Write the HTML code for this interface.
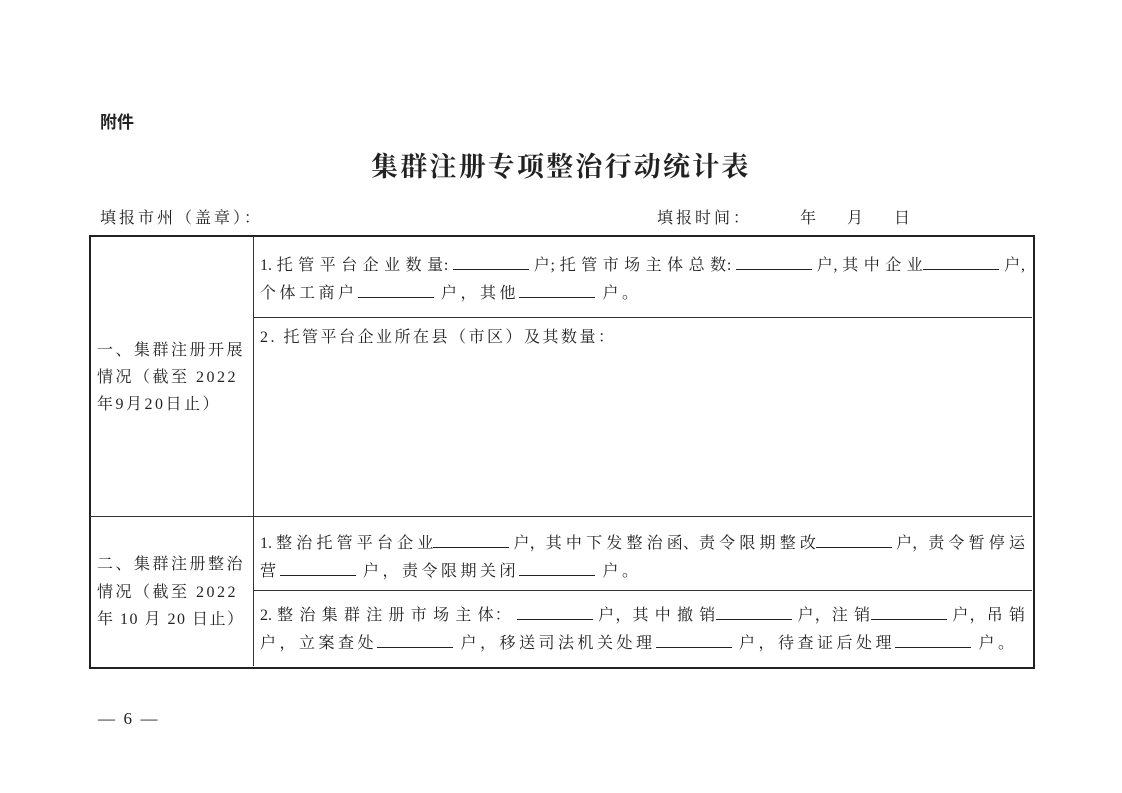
<!DOCTYPE html>
<html><head><meta charset="utf-8"><style>
body{margin:0;background:#fff;}
#p{position:relative;width:1122px;height:793px;overflow:hidden;font-family:"Liberation Serif","Noto Serif CJK SC",serif;color:#222;font-size:16px;}
.a{position:absolute;white-space:nowrap;line-height:20px;}
.j{position:absolute;left:260px;width:765px;line-height:20px;white-space:nowrap;text-align:justify;text-align-last:justify;}
.u{display:inline-block;width:76px;border-bottom:1px solid #222;height:14px;}
.ln{position:absolute;background:#333;}
</style></head><body><div id="p">
<div class="a" style="left:100px;top:113px;font-family:'Liberation Sans','Noto Sans CJK SC',sans-serif;font-weight:bold;font-size:17px;">附件</div>
<div class="a" style="left:371px;top:150px;font-weight:bold;font-size:27px;line-height:34px;letter-spacing:2.2px;">集群注册专项整治行动统计表</div>
<div class="a" style="left:100px;top:209px;letter-spacing:3px;">填报市州（盖章）：</div>
<div class="a" style="left:657px;top:209px;letter-spacing:3px;">填报时间：</div>
<div class="a" style="left:800px;top:209px;">年</div>
<div class="a" style="left:847px;top:209px;">月</div>
<div class="a" style="left:894px;top:209px;">日</div>

<div style="position:absolute;left:89px;top:235px;width:942px;height:430px;border:2px solid #222;"></div>
<div class="ln" style="left:253px;top:236px;width:1px;height:430px;"></div>
<div class="ln" style="left:253px;top:317px;width:779px;height:1px;"></div>
<div class="ln" style="left:90px;top:516px;width:942px;height:1px;"></div>
<div class="ln" style="left:253px;top:590px;width:779px;height:1px;"></div>

<div class="j" style="top:255px;">1. 托 管 平 台 企 业 数 量: <span class="u"></span> 户; 托 管 市 场 主 体 总 数: <span class="u"></span> 户, 其 中 企 业<span class="u"></span> 户,</div>
<div class="a" style="left:260px;top:283px;letter-spacing:3.5px;">个体工商户<span class="u"></span> 户，其他<span class="u"></span> 户。</div>
<div class="a" style="left:260px;top:328px;letter-spacing:2.5px;">2. 托管平台企业所在县（市区）及其数量：</div>

<div class="a" style="left:97px;top:341px;letter-spacing:2.5px;">一、集群注册开展</div>
<div class="a" style="left:97px;top:368px;letter-spacing:2.5px;">情况（截至 2022</div>
<div class="a" style="left:97px;top:395px;letter-spacing:2.5px;">年9月20日止）</div>

<div class="j" style="top:533px;">1. 整 治 托 管 平 台 企 业<span class="u"></span> 户，其 中 下 发 整 治 函、责 令 限 期 整 改<span class="u"></span> 户，责 令 暂 停 运</div>
<div class="a" style="left:260px;top:561px;letter-spacing:3.5px;">营<span class="u"></span> 户，责令限期关闭<span class="u"></span> 户。</div>
<div class="j" style="top:605px;">2. 整 治 集 群 注 册 市 场 主 体： <span class="u"></span> 户，其 中 撤 销<span class="u"></span> 户，注 销<span class="u"></span> 户，吊 销</div>
<div class="a" style="left:260px;top:633px;letter-spacing:3.5px;">户，立案查处<span class="u"></span> 户，移送司法机关处理<span class="u"></span> 户，待查证后处理<span class="u"></span> 户。</div>

<div class="a" style="left:97px;top:555px;letter-spacing:2.5px;">二、集群注册整治</div>
<div class="a" style="left:97px;top:583px;letter-spacing:2.5px;">情况（截至 2022</div>
<div class="a" style="left:97px;top:610px;letter-spacing:1.5px;">年 10 月 20 日止）</div>

<div class="a" style="left:98px;top:709px;font-size:17px;">— &nbsp;6 &nbsp;—</div>
</div></body></html>
